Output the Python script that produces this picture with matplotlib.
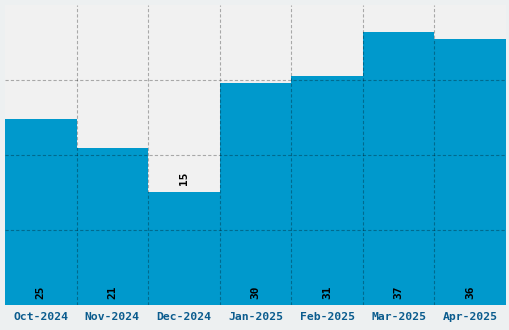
import numpy as np
import matplotlib.pyplot as plt

months = ["Oct-2024", "Nov-2024", "Dec-2024", "Jan-2025", "Feb-2025", "Mar-2025", "Apr-2025"]
counts = [25, 21, 15, 30, 31, 37, 36]
# labels that sit on top of the bar instead of inside it
outside = [False, False, True, False, False, False, False]

ymin, ymax = -0.55, 40.7
bar_color = "#0099cc"

fig = plt.figure(figsize=(5.1, 3.3), dpi=100, facecolor="#edf0f1")
ax = fig.add_axes([5 / 510, 25 / 330, 501 / 510, 300 / 330])
ax.set_facecolor("#f1f1f1")

x = np.arange(len(months))
vals = np.array(counts)
ax.bar(x, vals - ymin, bottom=ymin, width=1.0, color=bar_color, zorder=1)

ax.set_xlim(-0.5, len(months) - 0.5)
ax.set_ylim(ymin, ymax)

# grid: vertical lines between bars, horizontal lines splitting the height in 4
ax.set_xticks(x[:-1] + 0.5, minor=True)
ax.set_yticks(np.linspace(ymin, ymax, 5)[1:-1])
grid_style = dict(color="black", alpha=0.3, linestyle=(0, (2.9, 1.9)),
                  linewidth=0.8, zorder=2)
ax.grid(True, which="minor", axis="x", **grid_style)
ax.grid(True, which="major", axis="y", **grid_style)
ax.set_axisbelow(False)

ax.set_xticks(x)
ax.set_xticklabels(months, family="DejaVu Sans Mono", fontweight="bold",
                   fontsize=8.2, color="#0b5c8e")
ax.tick_params(axis="x", which="both", length=0, pad=5)
ax.tick_params(axis="y", which="both", length=0, labelleft=False)
for s in ax.spines.values():
    s.set_visible(False)

for i, v in enumerate(counts):
    y = v + 1.0 if outside[i] else ymin + 0.85
    ax.text(i, y, str(v), rotation=90, ha="center", va="bottom",
            family="DejaVu Sans Mono", fontweight="bold", fontsize=8,
            color="black", zorder=3)

fig.savefig("out.png", dpi=100, facecolor=fig.get_facecolor())
